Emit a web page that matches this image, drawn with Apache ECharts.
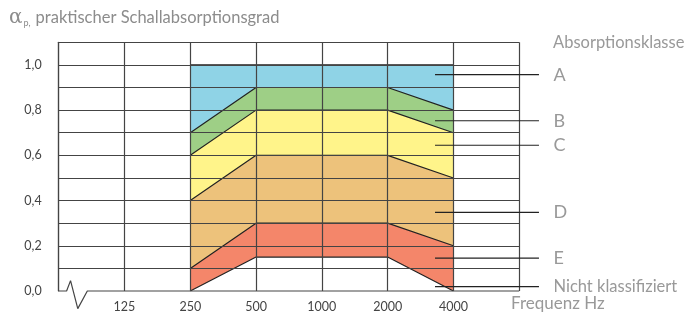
<!DOCTYPE html>
<html>
<head>
<meta charset="utf-8">
<script src="https://cdn.jsdelivr.net/npm/echarts@6/dist/echarts.min.js"></script>
<style>
  html, body { margin: 0; padding: 0; background: #fff; }
  #chart { width: 689px; height: 313px; }
</style>
</head>
<body>
<div id="chart"></div>
<script>
// x positions: 0 = axis start, 1..6 = frequency ticks, 7 = right edge
const freqLabels = ["125", "250", "500", "1000", "2000", "4000"];
const bandX = [2, 3, 4, 5, 6]; // 250 .. 4000 Hz

// upper boundaries of the classes (250, 500, 1000, 2000, 4000 Hz)
const topA = [1.0, 1.0, 1.0, 1.0, 1.0];
const topB = [0.7, 0.9, 0.9, 0.9, 0.8];
const topC = [0.6, 0.8, 0.8, 0.8, 0.7];
const topD = [0.4, 0.6, 0.6, 0.6, 0.5];
const topE = [0.1, 0.3, 0.3, 0.3, 0.2];
const bottomE = [0.0, 0.15, 0.15, 0.15, 0.0];

const classNames = ["A", "B", "C", "D", "E", "Nicht klassifiziert"];
const leaderY = [0.957, 0.754, 0.646, 0.35, 0.148, 0.022];
const leaderX = [5.72, 7.3];

// axis break zigzag along the bottom
const breakX = [0, 0.12, 0.18, 0.29, 0.435, 7];
const breakY = [0, 0, 0.046, -0.078, 0, 0];

const font = "Lato, 'DejaVu Sans', sans-serif";
const gridColor = "#444";
const textGray = "#999";
const unit = 65.79; // px per frequency step

function band(values, color, z) {
  return {
    type: "line",
    data: bandX.map((x, i) => [x, values[i]]),
    showSymbol: false,
    silent: true,
    z: z,
    lineStyle: { color: "#222", width: 1.2 },
    areaStyle: { color: color, opacity: 1 },
  };
}

const series = [
  band(topA, "#8fd3e6", 2),
  band(topB, "#9ecf86", 3),
  band(topC, "#fff48a", 4),
  band(topD, "#edc27b", 5),
  band(topE, "#f4866a", 6),
  band(bottomE, "#ffffff", 7),
  {
    type: "line",
    data: breakX.map((x, i) => [x, breakY[i]]),
    showSymbol: false,
    silent: true,
    clip: false,
    z: 20,
    lineStyle: { color: gridColor, width: 1.2 },
  },
];

// leader lines live on a second, slightly wider grid
classNames.forEach((name, i) => {
  series.push({
    type: "line",
    xAxisIndex: 1,
    yAxisIndex: 1,
    data: [
      [leaderX[0], leaderY[i]],
      {
        value: [leaderX[1], leaderY[i]],
        label: {
          show: true,
          position: "right",
          distance: 14,
          formatter: name,
          color: textGray,
          opacity: 1,
          fontFamily: font,
          fontSize: i === 5 ? 16.5 : 18,
        },
      },
    ],
    symbol: "circle",
    symbolSize: 1,
    showSymbol: true,
    silent: true,
    clip: false,
    z: 20,
    itemStyle: { color: "rgba(0,0,0,0)" },
    lineStyle: { color: "#222", width: 1.2 },
  });
});

const chart = echarts.init(document.getElementById("chart"));
chart.setOption({
  animation: false,
  backgroundColor: "#fff",
  title: [
    {
      text: "{a|α}{p|p,} {t|praktischer Schallabsorptionsgrad}",
      left: 9,
      top: 8,
      padding: 0,
      textStyle: {
        fontWeight: "normal",
        rich: {
          a: { fontFamily: "'DejaVu Serif', serif", fontSize: 20, fontWeight: "normal", color: "#8c8c8c" },
          p: { fontFamily: font, fontSize: 9, fontWeight: "normal", color: "#8c8c8c", verticalAlign: "bottom", padding: [11, 0, 0, 1] },
          t: { fontFamily: font, fontSize: 16.5, fontWeight: "normal", color: "#8c8c8c" },
        },
      },
    },
    {
      text: "Absorptionsklasse",
      left: 553,
      top: 34,
      padding: 0,
      textStyle: { fontFamily: font, fontSize: 16.5, fontWeight: "normal", color: textGray },
    },
    {
      text: "Frequenz Hz",
      left: 511,
      top: 295,
      padding: 0,
      textStyle: { fontFamily: font, fontSize: 17, fontWeight: "normal", color: textGray },
    },
  ],
  grid: [
    { left: 58.7, right: 169.8, top: 42.3, bottom: 21.3, containLabel: false },
    { left: 58.7, right: 689 - 58.7 - 7.4 * unit, top: 42.3, bottom: 21.3, containLabel: false },
  ],
  xAxis: [
    {
      type: "value",
      min: 0,
      max: 7,
      interval: 1,
      z: 10,
      axisLine: { show: false },
      axisTick: { show: false },
      splitLine: { show: true, lineStyle: { color: gridColor, width: 1.2 } },
      axisLabel: {
        margin: 9,
        fontFamily: font,
        fontSize: 12.5,
        color: "#444",
        formatter: (v) => freqLabels[v - 1] || "",
      },
    },
    { type: "value", gridIndex: 1, min: 0, max: 7.4, show: false },
  ],
  yAxis: [
    {
      type: "value",
      min: 0,
      max: 1.1,
      interval: 0.1,
      z: 10,
      axisLine: { show: true, lineStyle: { color: gridColor, width: 1.2 } },
      axisTick: { show: false },
      splitLine: { show: true, showMinLine: false, lineStyle: { color: gridColor, width: 1.2 } },
      axisLabel: {
        margin: 17,
        fontFamily: font,
        fontSize: 12.5,
        color: "#444",
        formatter: (v) => {
          const r = Math.round(v * 10);
          if (r % 2 !== 0 || r > 10) return "";
          return (r / 10).toFixed(1).replace(".", ",");
        },
      },
    },
    { type: "value", gridIndex: 1, min: 0, max: 1.1, show: false },
  ],
  series: series,
});
</script>
</body>
</html>
